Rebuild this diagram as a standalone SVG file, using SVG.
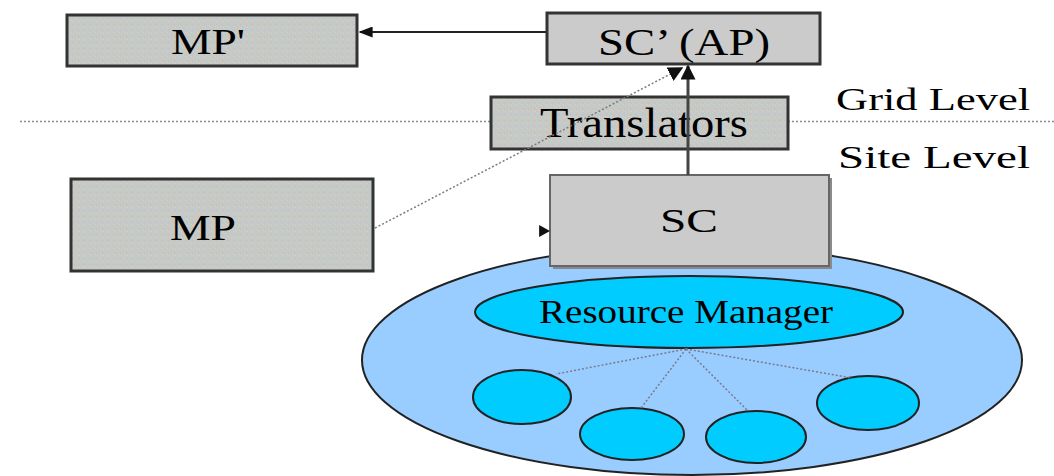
<svg xmlns="http://www.w3.org/2000/svg" width="1054" height="476" viewBox="0 0 1054 476">
  <style>
    .lbl { font-family: "Liberation Serif", "DejaVu Serif", serif; fill: #000; text-anchor: middle; }
    .box { stroke: #333; stroke-width: 3; }
    .plain { fill: #cbcbcb; }
    .grain { fill: url(#stipple); }
    .dot { fill: none; stroke: #7a7a8a; stroke-width: 1.5; stroke-dasharray: 2 2; }
    .solid { fill: none; stroke: #222; stroke-width: 2; }
    .pool { fill: #99ccff; stroke: #222; stroke-width: 2; }
    .res { fill: #00ccff; stroke: #222; stroke-width: 2; }
  </style>
  <defs>
    <!-- fine speckle used for the monitoring-point and translator boxes -->
    <pattern id="stipple" width="6" height="6" patternUnits="userSpaceOnUse">
      <rect width="6" height="6" fill="#c7c7c5"/>
      <rect x="0" y="0" width="1" height="1" fill="#d2b4d2"/>
      <rect x="3" y="1" width="1" height="1" fill="#b0d6d6"/>
      <rect x="1" y="3" width="1" height="1" fill="#d8d8b0"/>
      <rect x="4" y="4" width="1" height="1" fill="#b0d6d6"/>
      <rect x="5" y="2" width="1" height="1" fill="#d8d8b0"/>
      <rect x="2" y="5" width="1" height="1" fill="#b0d6d6"/>
    </pattern>
    <marker id="head" viewBox="0 0 10 10" refX="9" refY="5" markerWidth="14" markerHeight="11" orient="auto" markerUnits="userSpaceOnUse" preserveAspectRatio="none">
      <path d="M0,0 L10,5 L0,10 z" fill="#111"/>
    </marker>
    <marker id="headBig" viewBox="0 0 10 10" refX="9" refY="5" markerWidth="15" markerHeight="15" orient="auto" markerUnits="userSpaceOnUse">
      <path d="M0,0 L10,5 L0,10 z" fill="#111"/>
    </marker>
    <marker id="headSmall" viewBox="0 0 10 10" refX="9" refY="5" markerWidth="11" markerHeight="12" orient="auto" markerUnits="userSpaceOnUse" preserveAspectRatio="none">
      <path d="M0,0 L10,5 L0,10 z" fill="#111"/>
    </marker>
  </defs>

  <!-- level divider -->
  <line x1="20" y1="121.5" x2="1054" y2="121.5" stroke="#8a8a9a" stroke-width="1.5" stroke-dasharray="2 2"/>
  <text class="lbl" x="933" y="110" font-size="32" textLength="194" lengthAdjust="spacingAndGlyphs">Grid Level</text>
  <text class="lbl" x="934" y="168" font-size="32" textLength="192" lengthAdjust="spacingAndGlyphs">Site Level</text>

  <!-- resource pool -->
  <g id="pool">
    <ellipse class="pool" cx="692" cy="360" rx="330" ry="115"/>
  </g>

  <g id="mp-prime">
    <rect class="box grain" x="67" y="15" width="290" height="51"/>
    <text class="lbl" x="208" y="54" font-size="36" textLength="74" lengthAdjust="spacingAndGlyphs">MP'</text>
  </g>

  <g id="sc-prime">
    <rect class="box plain" x="547" y="13" width="273" height="51"/>
    <text class="lbl" x="684" y="55" font-size="38" textLength="172" lengthAdjust="spacingAndGlyphs">SC’ (AP)</text>
  </g>

  <g id="translators">
    <rect class="box grain" x="491" y="97" width="297" height="52"/>
    <text class="lbl" x="644" y="137" font-size="42" textLength="208" lengthAdjust="spacingAndGlyphs">Translators</text>
  </g>

  <g id="mp">
    <rect class="box grain" x="71" y="179" width="302" height="92"/>
    <text class="lbl" x="203" y="240" font-size="36" textLength="66" lengthAdjust="spacingAndGlyphs">MP</text>
  </g>

  <g id="sc">
    <rect x="553" y="178" width="279" height="91" fill="#8a8a8a"/>
    <rect x="550" y="175" width="279" height="91" fill="#cbcbcb" stroke="#666" stroke-width="2"/>
    <text class="lbl" x="689" y="232" font-size="34" textLength="58" lengthAdjust="spacingAndGlyphs">SC</text>
  </g>

  <g id="resource-manager">
    <ellipse class="res" cx="689" cy="312" rx="214" ry="36"/>
    <text class="lbl" x="686" y="323" font-size="34" textLength="294" lengthAdjust="spacingAndGlyphs">Resource Manager</text>
  </g>

  <g id="resource-1"><ellipse class="res" cx="522" cy="397" rx="49" ry="27"/></g>
  <g id="resource-2"><ellipse class="res" cx="632" cy="434" rx="52" ry="26"/></g>
  <g id="resource-3"><ellipse class="res" cx="756" cy="437" rx="50" ry="26"/></g>
  <g id="resource-4"><ellipse class="res" cx="868" cy="403" rx="51" ry="27"/></g>

  <g id="connectors">
    <!-- SC' reports to MP' -->
    <line class="solid" x1="546" y1="32" x2="360" y2="32" marker-end="url(#head)"/>
    <!-- SC up through translators to SC' -->
    <line x1="688" y1="175" x2="688" y2="66" stroke="#444" stroke-width="3" marker-end="url(#headBig)"/>
    <!-- MP to SC' -->
    <line class="dot" x1="375" y1="228" x2="682" y2="68" marker-end="url(#headBig)"/>
    <!-- pointer into SC -->
    <line x1="530" y1="231" x2="549" y2="231" stroke="none" marker-end="url(#headSmall)"/>
    <!-- resource manager to resources -->
    <line class="dot" x1="686" y1="349" x2="556" y2="374"/>
    <line class="dot" x1="686" y1="349" x2="641" y2="408"/>
    <line class="dot" x1="686" y1="349" x2="748" y2="411"/>
    <line class="dot" x1="686" y1="349" x2="852" y2="378"/>
  </g>
</svg>
